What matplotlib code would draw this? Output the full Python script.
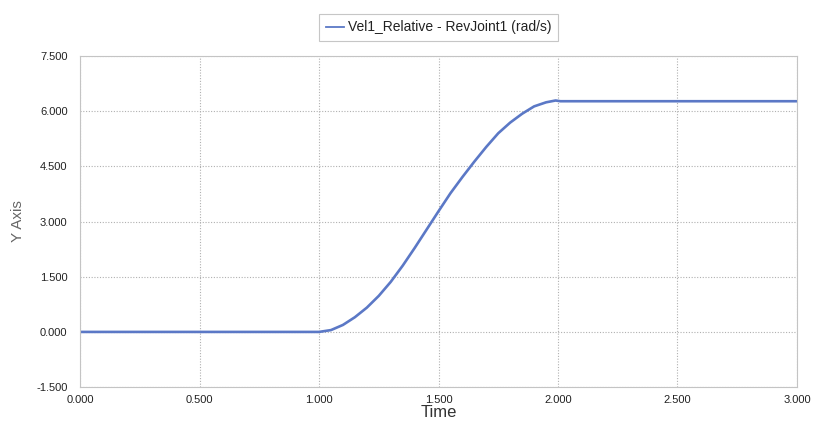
import matplotlib
matplotlib.use('Agg')
import matplotlib.pyplot as plt
from matplotlib.ticker import FormatStrFormatter

plt.rcParams['font.family'] = ['Liberation Sans', 'DejaVu Sans']

# values
t = [0.0, 0.5, 1.0, 1.05, 1.10, 1.15, 1.20, 1.25, 1.30, 1.35, 1.40, 1.45, 1.50,
     1.55, 1.60, 1.65, 1.70, 1.75, 1.80, 1.85, 1.90, 1.95, 1.99, 2.01, 2.5, 3.0]
vel = [0.0, 0.0, 0.0, 0.05, 0.19, 0.40, 0.66, 0.98, 1.36, 1.80, 2.28, 2.78, 3.28,
       3.77, 4.21, 4.63, 5.03, 5.40, 5.69, 5.93, 6.13, 6.24, 6.29, 6.27, 6.27, 6.27]
xticks = [0.0, 0.5, 1.0, 1.5, 2.0, 2.5, 3.0]
yticks = [-1.5, 0.0, 1.5, 3.0, 4.5, 6.0, 7.5]

fig = plt.figure(figsize=(8.17, 4.24), dpi=100)
ax = fig.add_axes([0.098, 0.087, 0.8775, 0.781])

ax.plot(t, vel, color='#5b78c6', lw=1.9, label='Vel1_Relative - RevJoint1 (rad/s)')

ax.set_xlim(0, 3)
ax.set_ylim(-1.5, 7.5)
ax.set_xticks(xticks)
ax.set_yticks(yticks)
ax.xaxis.set_major_formatter(FormatStrFormatter('%.3f'))
ax.yaxis.set_major_formatter(FormatStrFormatter('%.3f'))
ax.tick_params(length=0, labelsize=8, colors='#222222')
ax.tick_params(axis='x', pad=6)
ax.tick_params(axis='y', pad=9)
ax.grid(True, color='#b0b0b0', linestyle=(0, (1, 1.5)), lw=0.8)
for s in ax.spines.values():
    s.set_color('#c4c4c4')

ax.set_xlabel('Time', fontsize=12, color='#333333', labelpad=0)
ax.set_ylabel('Y Axis', fontsize=11, color='#666666', labelpad=8)

leg = ax.legend(loc='lower center', bbox_to_anchor=(0.5, 1.025), frameon=True,
                fancybox=False, fontsize=10, handlelength=1.3, handletextpad=0.3,
                borderpad=0.45, labelcolor='#222222')
leg.get_frame().set_edgecolor('#b8b8b8')
leg.get_frame().set_linewidth(0.8)
for h in leg.get_lines():
    h.set_linewidth(1.3)

fig.savefig('out.png', dpi=100)
